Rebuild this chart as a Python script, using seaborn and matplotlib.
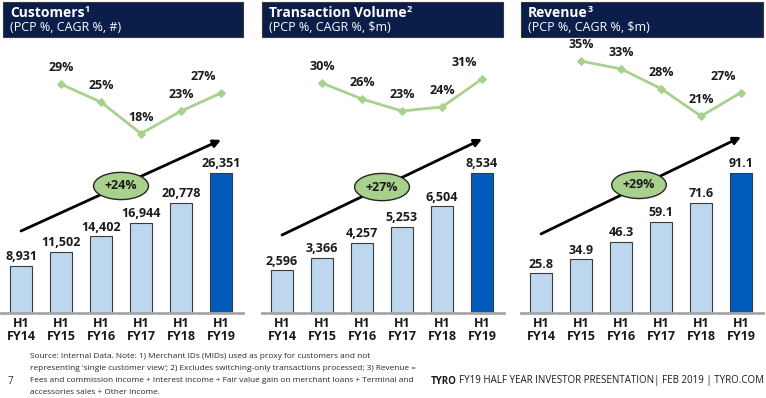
import numpy as np
import pandas as pd
import seaborn as sns
import matplotlib.pyplot as plt
from matplotlib.patches import Rectangle
import matplotlib.transforms as mtransforms

# chart data
periods = ["H1\nFY14", "H1\nFY15", "H1\nFY16", "H1\nFY17", "H1\nFY18", "H1\nFY19"]
customers = [8931, 11502, 14402, 16944, 20778, 26351]
customers_pcp = [29, 25, 18, 23, 27]
txn_volume = [2596, 3366, 4257, 5253, 6504, 8534]
txn_pcp = [30, 26, 23, 24, 31]
revenue = [25.8, 34.9, 46.3, 59.1, 71.6, 91.1]
revenue_pcp = [35, 33, 28, 21, 27]
titles = ["Customers", "Transaction Volume", "Revenue"]
title_notes = ["1", "2", "3"]
subtitles = ["(PCP %, CAGR %, #)", "(PCP %, CAGR %, $m)", "(PCP %, CAGR %, $m)"]
cagr = ["+24%", "+27%", "+29%"]

NAVY = "#0b1e4a"
LIGHT = "#bdd7ee"
DARK = "#005bbb"
GREEN = "#a9d18e"

sns.set_style("white")
plt.rcParams["font.family"] = ["Open Sans", "DejaVu Sans"]

W, H = 766, 398
fig = plt.figure(figsize=(W / 100, H / 100), dpi=100)


def fx(px):
    return px / W


def fy(py):
    return 1 - py / H


panels = [
    dict(vals=customers, pcp=customers_pcp, fmt="{:,.0f}", left=1, lims=(-21.9, 37.7),
         arrow=(0.306, 0.646), oval=(2.5, 0.474), box=(3, 243)),
    dict(vals=txn_volume, pcp=txn_pcp, fmt="{:,.0f}", left=262, lims=(-27.5, 39.5),
         arrow=(0.291, 0.649), oval=(2.5, 0.47), box=(262, 503)),
    dict(vals=revenue, pcp=revenue_pcp, fmt="{:.1f}", left=521, lims=(-29.1, 39.1),
         arrow=(0.295, 0.657), oval=(2.45, 0.478), box=(521, 763)),
]

base_y, top_y = 313, 45
ax_w = 242

for i, p in enumerate(panels):
    ax = fig.add_axes([fx(p["left"]), fy(base_y), fx(ax_w), (base_y - top_y) / H])
    df = pd.DataFrame({"period": periods, "value": p["vals"]})
    colors = [LIGHT] * 5 + [DARK]
    sns.barplot(data=df, x="period", y="value", hue="period", palette=colors,
                legend=False, width=0.55, edgecolor="#3a3a3a", linewidth=0.8,
                saturation=1, ax=ax)
    ax.set_ylim(0, max(p["vals"]) * (base_y - top_y) / 140)
    ax.set_xlim(-0.5, 5.55)
    for c in ax.containers:
        ax.bar_label(c, labels=[p["fmt"].format(v) for v in c.datavalues],
                     padding=2, fontsize=9, fontweight="bold", color="#1a1a1a")
    ax.set_xlabel("")
    ax.set_ylabel("")
    ax.set_yticks([])
    ax.tick_params(axis="x", length=0, pad=3)
    ax.set_xticks(range(6))
    ax.set_xticklabels(periods, fontsize=9, fontweight="bold", color="#1a1a1a",
                       linespacing=1.0)
    for s in ["top", "left", "right"]:
        ax.spines[s].set_visible(False)
    ax.spines["bottom"].set_color("#a6a6a6")
    ax.spines["bottom"].set_linewidth(2)

    # CAGR arrow and oval
    ax.annotate("", xy=(5.0, p["arrow"][1]), xytext=(0.0, p["arrow"][0]),
                xycoords=("data", "axes fraction"), textcoords=("data", "axes fraction"),
                arrowprops=dict(arrowstyle="-|>", color="black", lw=2, mutation_scale=11,
                                shrinkA=0, shrinkB=0))
    trans = mtransforms.blended_transform_factory(ax.transData, ax.transAxes)
    ax.text(p["oval"][0], p["oval"][1], cagr[i], transform=trans, ha="center", va="center",
            fontsize=9, fontweight="bold", color="#1a1a1a", zorder=5,
            bbox=dict(boxstyle="ellipse,pad=0.25", fc=GREEN, ec="#262626", lw=1))

    # PCP growth line
    ax2 = ax.twinx()
    ldf = pd.DataFrame({"x": np.arange(1, 6), "pcp": p["pcp"]})
    sns.lineplot(data=ldf, x="x", y="pcp", color=GREEN, lw=2, marker="D",
                 markersize=4, markeredgecolor=GREEN, ax=ax2)
    ax2.set_ylim(*p["lims"])
    ax2.set_xlim(-0.5, 5.55)
    ax2.axis("off")
    for j, v in enumerate(p["pcp"]):
        dx = -13 if j == 4 else 0
        ax2.annotate(f"{v}%", (j + 1, v), xytext=(dx, 7), textcoords="offset points",
                     ha="center", va="bottom", fontsize=9, fontweight="bold",
                     color="#1a1a1a")

    # header box
    x0, x1 = p["box"]
    fig.add_artist(Rectangle((fx(x0), fy(37)), fx(x1 - x0), 35 / H,
                             transform=fig.transFigure, fc=NAVY, ec="#3a3a3a", lw=0.8))
    t = fig.text(fx(x0 + 7), fy(13), titles[i], color="white", fontsize=10,
                 fontweight="bold", va="center", ha="left")
    fig.text(fx(x0 + 7), fy(27.5), subtitles[i], color="white", fontsize=9,
             va="center", ha="left")
    fig.canvas.draw()
    bb = t.get_window_extent()
    fig.text(bb.x1 / W, fy(9), title_notes[i], color="white", fontsize=6.5,
             fontweight="bold", va="center", ha="left")

# footer
foot = ("Source: Internal Data. Note: 1) Merchant IDs (MIDs) used as proxy for customers and not\n"
        "representing 'single customer view'; 2) Excludes switching-only transactions processed; 3) Revenue =\n"
        "Fees and commission income + Interest income + Fair value gain on merchant loans + Terminal and\n"
        "accessories sales + Other income.")
fig.text(fx(30), fy(353), foot, fontsize=5.95, va="top", ha="left", color="#262626",
         linespacing=1.98)
fig.text(fx(8), fy(381), "7", fontsize=7, va="center", ha="left", color="#262626")
ft = fig.text(fx(431), fy(381), "TYRO", fontsize=7.0, fontweight="bold", va="center",
              ha="left", color="#1a1a1a")
fig.canvas.draw()
bb = ft.get_window_extent()
fig.text(bb.x1 / W + fx(2), fy(381), "FY19 HALF YEAR INVESTOR PRESENTATION| FEB 2019 | TYRO.COM",
         fontsize=7.0, va="center", ha="left", color="#1a1a1a")

fig.savefig("out.png", dpi=100)
